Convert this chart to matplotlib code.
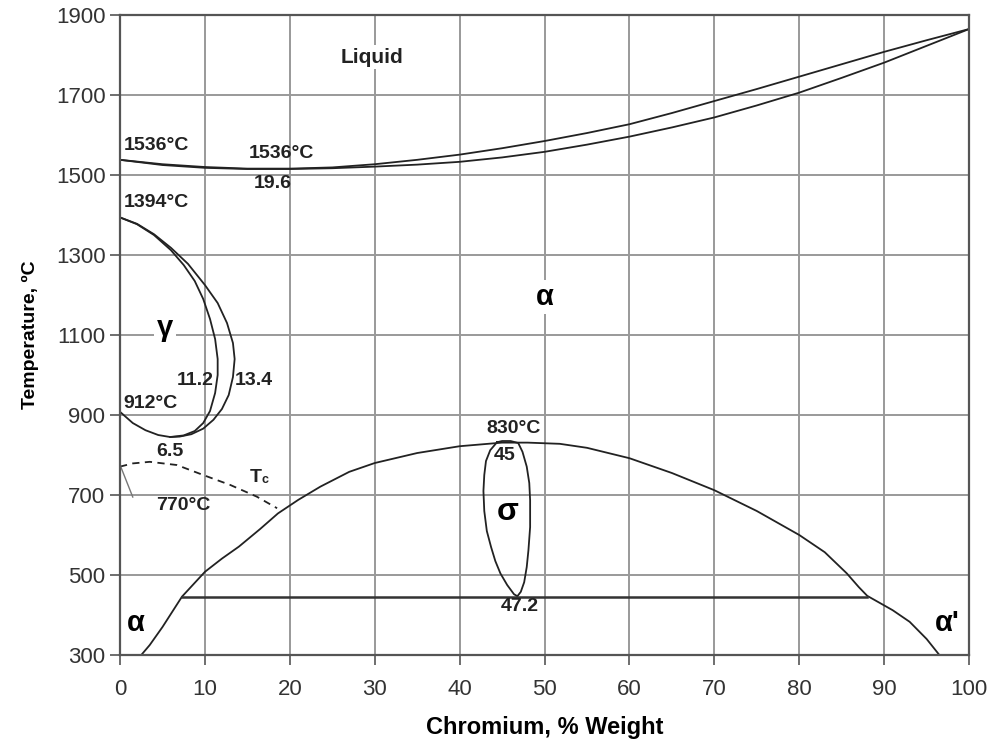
import matplotlib.pyplot as plt

plt.rcParams['font.family'] = ['Liberation Sans', 'DejaVu Sans']

# Liquidus / solidus (Cr %, °C)
liq_x = [0, 5, 10, 15, 20, 25, 30, 35, 40, 45, 50, 55, 60, 65, 70, 75, 80, 85, 90, 95, 100]
liq_t = [1538, 1527, 1520, 1516, 1516, 1519, 1527, 1538, 1551, 1567, 1585, 1605, 1627, 1655, 1685, 1715,
         1746, 1777, 1808, 1837, 1865]
sol_x = [0, 5, 10, 15, 20, 25, 30, 35, 40, 45, 50, 55, 60, 65, 70, 75, 80, 85, 90, 95, 100]
sol_t = [1538, 1525, 1518, 1515, 1515, 1517, 1521, 1526, 1533, 1544, 1558, 1576, 1596, 1619, 1644, 1674,
         1706, 1743, 1781, 1823, 1865]

# Gamma loop, outer and inner boundaries
gout_x = [0, 2, 4, 6, 8, 10, 11.5, 12.6, 13.3, 13.5, 13.3, 12.8, 12, 11, 9.8, 8.4, 7, 5.9, 4.5, 3, 1.5, 0]
gout_t = [1394, 1378, 1352, 1318, 1278, 1225, 1180, 1130, 1080, 1040, 995, 950, 915, 888, 866, 852, 846,
          845, 850, 862, 880, 908]
gin_x = [0, 2, 4, 6, 7.5, 8.8, 9.8, 10.6, 11.2, 11.5, 11.5, 11.2, 10.6, 9.8, 8.8, 7.5, 5.9]
gin_t = [1394, 1377, 1350, 1312, 1275, 1235, 1190, 1140, 1090, 1040, 1000, 955, 910, 880, 860, 849, 845]

# Curie temperature (dashed)
tc_x = [0, 1.5, 3.5, 6.7, 9.8, 13, 16.1, 18.5]
tc_t = [771, 779, 783, 775, 750, 725, 696, 667]

# Alpha + sigma / alpha + alpha' dome
dome_x = [2.5, 3.5, 5, 7.3, 10, 12, 14, 16.5, 18.6, 21, 23.6, 27, 30, 35, 40, 45, 48, 51.8, 55, 60, 65,
          70, 75, 80, 83, 85.6, 87, 88, 89.5, 91, 93, 95, 96.5]
dome_t = [300, 325, 370, 446, 508, 541, 571, 615, 654, 688, 721, 758, 780, 805, 822, 831, 831, 828, 818,
          792, 755, 712, 660, 600, 557, 504, 470, 448, 430, 412, 383, 340, 300]

# Sigma phase loop
sig_x = [44.4, 45, 46, 46.9, 47.4, 47.9, 48.2, 48.3, 48.3, 48.1, 47.9, 47.6, 47.2, 46.8, 46.4, 45.6, 44.8,
         44.2, 43.7, 43.2, 42.9, 42.8, 42.9, 43.1, 43.6, 44.4]
sig_t = [832, 835, 835, 830, 808, 771, 730, 687, 620, 562, 520, 482, 458, 447, 452, 475, 504, 535, 570,
         610, 660, 710, 750, 785, 812, 832]

# Eutectoid line
eut_x = [7.3, 88]
eut_t = [445, 445]

fig = plt.figure(figsize=(9.96, 7.44), dpi=100)
ax = fig.add_axes([0.1205, 0.1196, 0.8525, 0.8602])

line = dict(color='#222222', lw=1.3)
ax.plot(liq_x, liq_t, **line)
ax.plot(sol_x, sol_t, **line)
ax.plot(gout_x, gout_t, **line)
ax.plot(gin_x, gin_t, **line)
ax.plot(tc_x, tc_t, color='#222222', lw=1.3, ls=(0, (4, 3)))
ax.plot(dome_x, dome_t, **line)
ax.plot(sig_x, sig_t, **line)
ax.plot(eut_x, eut_t, color='#333333', lw=1.8)
# leader line to 770°C
ax.plot([0.1, 1.5], [770, 695], color='#777777', lw=1.0)

ax.set_xlim(0, 100)
ax.set_ylim(300, 1900)
ax.set_xticks(range(0, 101, 10))
ax.set_yticks(range(300, 1901, 200))
ax.grid(True, color='#999999', lw=1.4)
ax.set_axisbelow(True)
for s in ax.spines.values():
    s.set_color('#555555')
    s.set_linewidth(1.6)
ax.tick_params(axis='both', labelsize=16, colors='#555555', labelcolor='#333333', length=7, width=1.2)
ax.tick_params(axis='x', pad=10)
ax.set_xlabel('Chromium, % Weight', fontsize=17, fontweight='bold', labelpad=12)
ax.set_ylabel('Temperature, ºC', fontsize=14, fontweight='bold', labelpad=12)

wb = dict(facecolor='white', edgecolor='none', pad=2)
lbl = dict(fontsize=14, fontweight='bold', color='#222222')
ax.text(29.7, 1795, 'Liquid', ha='center', va='center', bbox=wb, fontsize=15, fontweight='bold',
        color='#222222')
ax.text(50, 1195, 'α', ha='center', va='center', fontsize=21, fontweight='bold', bbox=wb)
ax.text(5.3, 1117, 'γ', ha='center', va='center', fontsize=21, fontweight='bold', bbox=wb)
ax.text(45.7, 657, 'σ', ha='center', va='center', fontsize=23, fontweight='bold')
ax.text(1.9, 380, 'α', ha='center', va='center', fontsize=21, fontweight='bold')
ax.text(97.4, 380, "α'", ha='center', va='center', fontsize=21, fontweight='bold')
ax.text(0.4, 1573, '1536°C', ha='left', va='center', **lbl)
ax.text(19, 1555, '1536°C', ha='center', va='center', **lbl)
ax.text(18, 1480, '19.6', ha='center', va='center', **lbl)
ax.text(0.4, 1432, '1394°C', ha='left', va='center', **lbl)
ax.text(8.8, 987, '11.2', ha='center', va='center', **lbl)
ax.text(15.7, 987, '13.4', ha='center', va='center', **lbl)
ax.text(0.4, 930, '912°C', ha='left', va='center', **lbl)
ax.text(5.9, 808, '6.5', ha='center', va='center', **lbl)
ax.text(16.0, 745, 'T', ha='center', va='center', **lbl)
ax.text(17.1, 738, 'c', ha='center', va='center', fontsize=9, fontweight='bold', color='#222222')
ax.text(7.5, 675, '770°C', ha='center', va='center', **lbl)
ax.text(46.3, 867, '830°C', ha='center', va='center', **lbl)
ax.text(45.3, 800, '45', ha='center', va='center', **lbl)
ax.text(47.1, 422, '47.2', ha='center', va='center', **lbl)

fig.savefig('out.png', dpi=100)
